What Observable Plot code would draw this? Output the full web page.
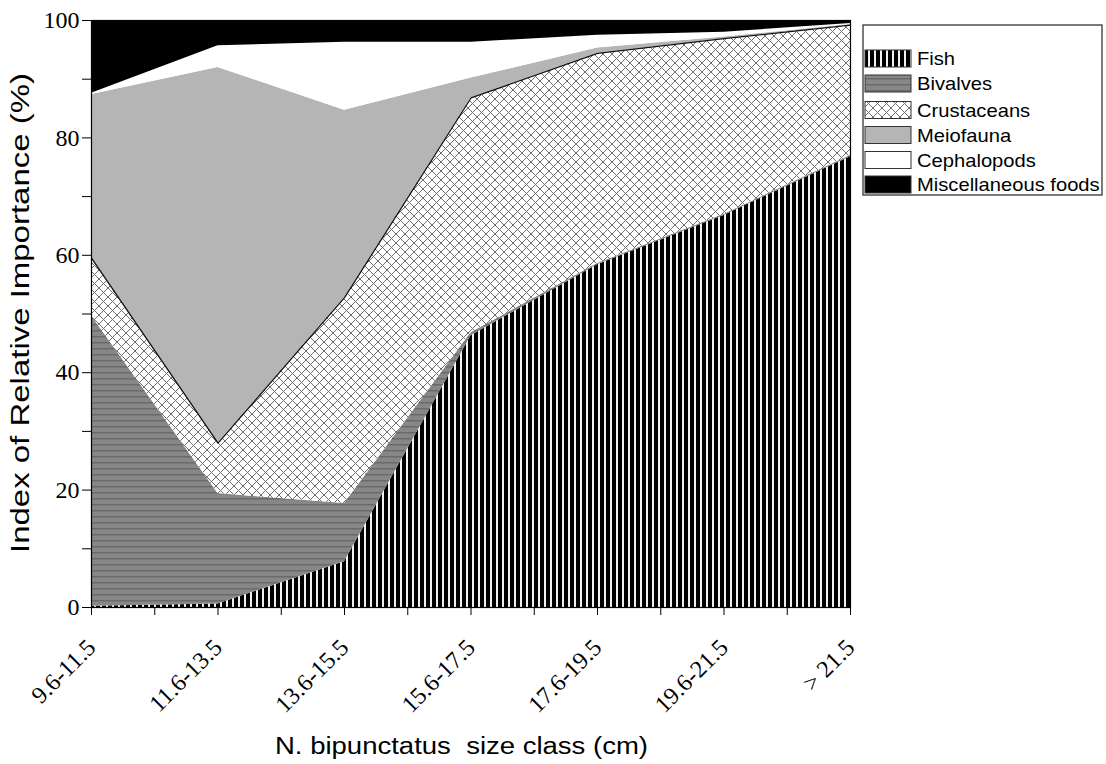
<!DOCTYPE html>
<html><head><meta charset="utf-8">
<script src="https://cdn.jsdelivr.net/npm/d3@7"></script>
<script src="https://cdn.jsdelivr.net/npm/@observablehq/plot@0.6"></script>
<style>
body{margin:0;background:#fff;}
#wrap{position:relative;width:1106px;height:764px;}
</style>
</head><body>
<svg width="0" height="0" style="position:absolute">
<defs>
<pattern id="pFish" patternUnits="userSpaceOnUse" width="6" height="6"><rect width="6" height="6" fill="#000"/><rect x="4" width="2" height="6" fill="#f2f2f2"/></pattern>
<pattern id="pBiv" patternUnits="userSpaceOnUse" width="6" height="6"><rect width="6" height="6" fill="#878787"/><rect y="0" width="6" height="1.5" fill="#6a6a6a"/></pattern>
<pattern id="pCrust" patternUnits="userSpaceOnUse" width="9" height="9"><rect width="9" height="9" fill="#fff"/><path d="M0,0L9,9M9,0L0,9" stroke="#6e6e6e" stroke-width="1"/></pattern>
</defs></svg>
<div id="wrap"></div>
<script>
const categories = ["9.6-11.5","11.6-13.5","13.6-15.5","15.6-17.5","17.6-19.5","19.6-21.5","> 21.5"];
const layerNames = ["Fish","Bivalves","Crustaceans","Meiofauna","Cephalopods","Miscellaneous foods"];
const fish          = [0.2, 0.6, 7.8, 46.3, 58.4, 66.8, 76.8];
const bivalves      = [49.5, 18.8, 9.9, 0.5, 0.2, 0.2, 0.2];
const crustaceans   = [9.8, 8.6, 35.1, 40.0, 35.8, 29.9, 22.2];
const meiofauna     = [27.9, 64.0, 31.9, 3.4, 0.9, 0.3, 0.1];
const cephalopods   = [0.2, 3.7, 11.6, 6.1, 2.2, 0.8, 0.2];
const miscellaneous = [12.4, 4.3, 3.7, 3.7, 2.5, 2.0, 0.5];
const yTicks = [0, 20, 40, 60, 80, 100];
const yMinorTicks = [10, 30, 50, 70, 90];

const series = [fish, bivalves, crustaceans, meiofauna, cephalopods, miscellaneous];
const fills = ["url(#pFish)", "url(#pBiv)", "url(#pCrust)", "#b5b5b5", "#ffffff", "#000000"];

// stacked table built from the arrays
const rows = [];
categories.forEach((c, i) => {
  let acc = 0;
  series.forEach((s, k) => {
    rows.push({i, layer: layerNames[k], y1: acc, y2: acc + s[i]});
    acc += s[i];
  });
});

const serif = "Liberation Serif, Times New Roman, serif";
const marks = layerNames.map((name, k) =>
  Plot.areaY(rows.filter(d => d.layer === name), {x: "i", y1: "y1", y2: "y2", fill: fills[k]})
);
marks.push(Plot.lineY(rows.filter(d => d.layer === "Crustaceans"), {x: "i", y: "y2", stroke: "#111", strokeWidth: 1.3}));
marks.push(Plot.frame({stroke: "#000", strokeWidth: 1.2}));
marks.push(Plot.axisY({ticks: yTicks, tickSize: 9, tickPadding: 3, fontSize: 24, fontFamily: serif, label: null}));
marks.push(Plot.axisY({ticks: yMinorTicks, tickSize: 9, tickFormat: () => "", label: null}));
marks.push(Plot.axisX({ticks: d3.range(categories.length), tickFormat: i => categories[i], tickRotate: -45, tickSize: 8, tickPadding: 28, fontSize: 24, fontFamily: serif, label: null}));
marks.push(Plot.axisX({ticks: d3.range(categories.length - 1).map(i => i + 0.5), tickFormat: () => "", tickSize: 8, label: null}));

const svgPlot = Plot.plot({
  width: 1106, height: 764,
  marginLeft: 91, marginRight: 256, marginTop: 20, marginBottom: 157,
  x: {type: "linear", domain: [0, categories.length - 1], label: null},
  y: {domain: [0, 100], label: null},
  style: {color: "#000", background: "#fff", overflow: "visible"},
  marks
});
document.getElementById("wrap").appendChild(svgPlot);

const svg = d3.select(svgPlot);
svg.selectAll("text").attr("font-family", serif);

// axis titles
svg.append("text")
  .attr("transform", "translate(29,313) rotate(-90)")
  .attr("text-anchor", "middle")
  .attr("font-family", "Liberation Sans, Arial, sans-serif")
  .attr("font-size", 26)
  .attr("textLength", 480).attr("lengthAdjust", "spacingAndGlyphs")
  .attr("fill", "#000")
  .text("Index of Relative Importance (%)");
svg.append("text")
  .attr("x", 275).attr("y", 754)
  .attr("text-anchor", "start")
  .attr("font-family", "Liberation Sans, Arial, sans-serif")
  .attr("font-size", 23)
  .attr("textLength", 373).attr("lengthAdjust", "spacingAndGlyphs")
  .style("white-space", "pre")
  .attr("fill", "#000")
  .text("N. bipunctatus  size class (cm)");

// legend
const lg = svg.append("g").attr("text-anchor", "start");
lg.append("rect").attr("x", 863).attr("y", 25).attr("width", 239).attr("height", 170)
  .attr("fill", "#fff").attr("stroke", "#222").attr("stroke-width", 1.2);
const legY = [58.5, 83.5, 110, 135, 160, 184.5];
layerNames.forEach((name, k) => {
  lg.append("rect").attr("x", 865).attr("y", legY[k] - 8.5).attr("width", 46).attr("height", 17)
    .attr("fill", fills[k]).attr("stroke", "#333").attr("stroke-width", 1);
  lg.append("text")
    .attr("transform", `translate(917,${legY[k] + 6.5}) scale(1.12,1)`)
    .attr("text-anchor", "start")
    .attr("font-family", "Liberation Sans, Arial, sans-serif")
    .attr("font-size", 18).attr("fill", "#000")
    .text(name);
});
</script>
</body></html>
